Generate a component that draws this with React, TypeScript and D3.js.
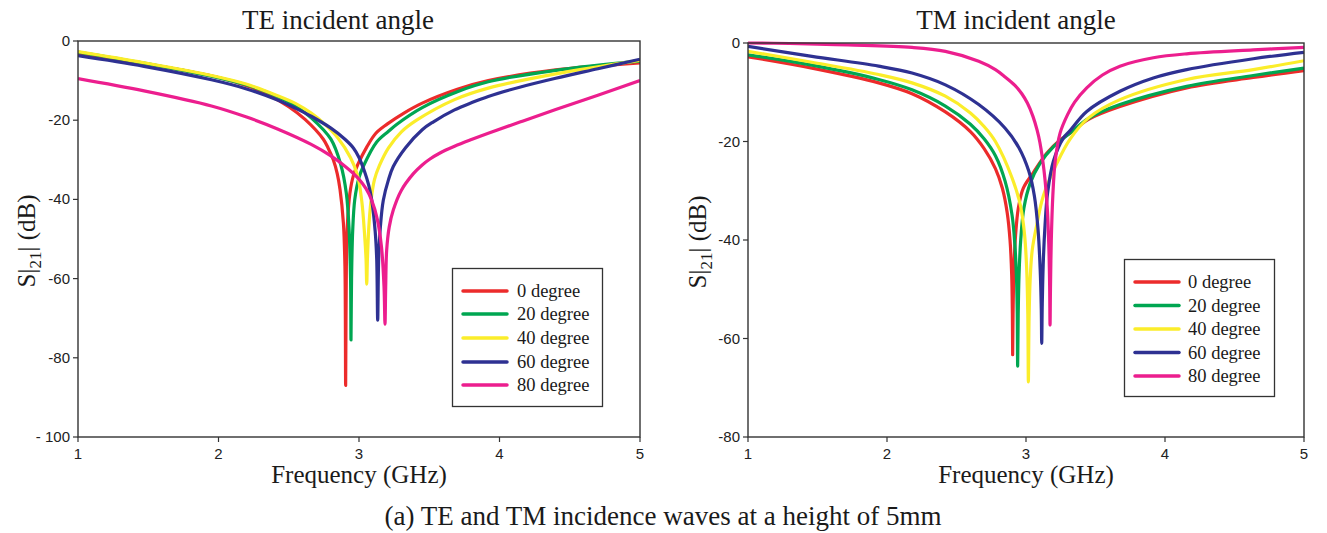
import React from "react";
import * as d3 from "d3";

type Pt = [number, number];

// ---------- data (frequency GHz, S21 dB) ----------
const seriesNames = ["0 degree", "20 degree", "40 degree", "60 degree", "80 degree"];
const seriesColors = ["#ec2b2b", "#00a651", "#fbed2a", "#2e3192", "#ec1e8e"];

const freqTicks = [1, 2, 3, 4, 5];
const teYTicks = [0, -20, -40, -60, -80, -100];
const teYTickLabels = ["0", "-20", "-40", "-60", "-80", "- 100"];
const tmYTicks = [0, -20, -40, -60, -80];
const tmYTickLabels = ["0", "-20", "-40", "-60", "-80"];

const te0: Pt[] = [
  [1.0, -3.3], [1.5, -5.9], [2.0, -9.2], [2.2, -11.3], [2.35, -13.5], [2.5, -16.6], [2.616, -19.8],
  [2.746, -24.8], [2.78, -27.0], [2.817, -30.0], [2.845, -33.5], [2.865, -37.5], [2.889, -46], [2.9, -57],
  [2.905, -87], [2.91, -57], [2.918, -46], [2.935, -38.5], [2.96, -34], [2.99, -31.3], [3.055, -26.8],
  [3.12, -23.3], [3.2, -21.0], [3.32, -18.2], [3.45, -15.7], [3.7, -12.2], [3.92, -10.0], [4.4, -7.3],
  [5.0, -5.5],
];
const te20: Pt[] = [
  [1.0, -2.8], [1.47, -5.6], [1.95, -8.9], [2.19, -11.0], [2.42, -14.0], [2.55, -16.5], [2.66, -19.4],
  [2.8, -24.8], [2.87, -31.2], [2.91, -38.5], [2.93, -48], [2.94, -60], [2.943, -75.5], [2.947, -60],
  [2.955, -48], [2.97, -40], [3.0, -34.5], [3.03, -31.7], [3.126, -25.5], [3.21, -22.8], [3.27, -21.0],
  [3.45, -16.8], [3.7, -12.8], [3.92, -10.3], [4.4, -7.4], [5.0, -5.1],
];
const te40: Pt[] = [
  [1.0, -2.7], [1.47, -5.5], [1.95, -8.7], [2.19, -10.8], [2.42, -13.8], [2.55, -15.8], [2.66, -18.2],
  [2.75, -20.8], [2.85, -24.5], [2.94, -29.5], [2.99, -34], [3.02, -40.5], [3.04, -49], [3.05, -55],
  [3.055, -61.4], [3.06, -55], [3.07, -47], [3.085, -40.5], [3.11, -35], [3.145, -31.5], [3.21, -27.0],
  [3.3, -23], [3.41, -20], [3.68, -14.8], [3.92, -11.9], [4.4, -8.3], [5.0, -4.9],
];
const te60: Pt[] = [
  [1.0, -3.7], [1.47, -6.4], [1.95, -9.8], [2.2, -12.1], [2.42, -14.9], [2.55, -17.0], [2.66, -19.0],
  [2.8, -22.0], [2.9, -24.8], [2.96, -27.0], [3.0, -29.4], [3.04, -33], [3.07, -36.5], [3.09, -40],
  [3.115, -48], [3.126, -55], [3.133, -70.5], [3.14, -55], [3.152, -47], [3.173, -40.2], [3.21, -35],
  [3.244, -31.7], [3.33, -27.0], [3.45, -22.4], [3.53, -20.4], [3.68, -17.4], [3.8, -15.6], [3.92, -14.0],
  [4.15, -11.6], [4.4, -9.4], [4.7, -7.0], [5.0, -4.6],
];
const te80: Pt[] = [
  [1.0, -9.5], [1.47, -12.6], [1.95, -16.4], [2.2, -19.2], [2.42, -22.2], [2.66, -26.1], [2.8, -29.0],
  [2.9, -31.6], [2.99, -34.5], [3.05, -37.3], [3.09, -40.2], [3.13, -45], [3.16, -52], [3.178, -62],
  [3.185, -71.5], [3.19, -62], [3.197, -52.8], [3.215, -47], [3.244, -42.7], [3.3, -37.8], [3.387, -33.5],
  [3.45, -31.3], [3.505, -29.8], [3.57, -28.4], [3.68, -26.6], [3.8, -24.9], [3.92, -23.3], [4.15, -20.4],
  [4.4, -17.3], [4.7, -13.7], [5.0, -10.0],
];

const tm0: Pt[] = [
  [1.0, -2.8], [1.46, -5.1], [1.94, -8.1], [2.18, -10.3], [2.42, -14.0], [2.6, -18], [2.7, -21.5],
  [2.78, -25.5], [2.83, -29.5], [2.865, -34.5], [2.885, -40], [2.897, -47], [2.902, -55], [2.904, -63.3],
  [2.907, -55], [2.913, -46], [2.925, -39], [2.945, -33.5], [2.98, -29.5], [3.053, -26.3], [3.149, -22.4],
  [3.245, -19.7], [3.317, -18.3], [3.45, -15.5], [3.676, -12.9], [4.156, -9.1], [4.635, -7.0], [5.0, -5.6],
];
const tm20: Pt[] = [
  [1.0, -2.4], [1.46, -4.5], [1.94, -7.4], [2.18, -9.5], [2.42, -12.8], [2.6, -16.5], [2.7, -19.5],
  [2.78, -22.9], [2.85, -28.1], [2.9, -35], [2.92, -41], [2.932, -48], [2.937, -55], [2.94, -65.6],
  [2.944, -55], [2.95, -47], [2.962, -40], [2.985, -33.5], [3.03, -28.5], [3.1, -24.5], [3.2, -21],
  [3.317, -18.3], [3.45, -15.3], [3.676, -12.5], [4.156, -8.8], [4.635, -6.6], [5.0, -5.1],
];
const tm40: Pt[] = [
  [1.0, -1.7], [1.46, -3.9], [1.94, -6.4], [2.18, -8.1], [2.42, -10.8], [2.6, -14.2], [2.7, -17],
  [2.78, -20.0], [2.9, -27.4], [2.96, -33], [2.99, -39], [3.005, -46], [3.013, -55], [3.017, -68.8],
  [3.022, -56], [3.03, -48], [3.045, -42], [3.077, -37], [3.125, -31], [3.221, -24.5], [3.317, -19.5],
  [3.45, -15.2], [3.676, -11.5], [4.156, -7.4], [4.635, -5.4], [5.0, -3.6],
];
const tm60: Pt[] = [
  [1.0, -0.7], [1.46, -2.7], [1.94, -4.7], [2.18, -6.1], [2.42, -8.5], [2.66, -12.5], [2.85, -17.3],
  [2.95, -21.3], [3.02, -26], [3.06, -31], [3.087, -38], [3.102, -46], [3.11, -54], [3.113, -61],
  [3.117, -53], [3.125, -44], [3.137, -37], [3.155, -30.5], [3.197, -24], [3.269, -19.3], [3.317, -17.8],
  [3.437, -13.9], [3.676, -9.8], [3.916, -7.1], [4.156, -5.4], [4.635, -3.2], [5.0, -1.9],
];
const tm80: Pt[] = [
  [1.0, 0], [1.3, -0.1], [1.72, -0.4], [2.18, -0.9], [2.42, -1.7], [2.66, -3.7], [2.78, -5.4],
  [2.85, -6.9], [2.92, -8.6], [2.97, -10.3], [3.01, -12.2], [3.05, -14.9], [3.08, -17.7], [3.1, -20.2],
  [3.13, -26], [3.152, -33], [3.164, -41], [3.17, -49], [3.173, -57.3], [3.176, -50], [3.182, -40],
  [3.193, -31], [3.21, -24], [3.245, -18.3], [3.3, -14.5], [3.35, -12], [3.437, -9.1], [3.55, -6.5],
  [3.676, -4.7], [3.916, -3.0], [4.156, -2.2], [4.635, -1.4], [5.0, -0.9],
];

const teSeries = [te0, te20, te40, te60, te80];
const tmSeries = [tm0, tm20, tm40, tm60, tm80];

const SERIF = "'Liberation Serif', 'Times New Roman', serif";
const SANS = "'Liberation Sans', Arial, sans-serif";
const AXIS = "#333";

interface PanelProps {
  title: string;
  titleX: number;
  x0: number; x1: number; y0: number; y1: number;
  yMin: number;
  yTicks: number[];
  yTickLabels: string[];
  series: Pt[][];
  ylabelX: number;
  legend: { left: number; top: number; right: number; bottom: number; lineX0: number; lineX1: number; textX: number; rows: number[] };
}

function Panel(p: PanelProps) {
  const x = d3.scaleLinear().domain([1, 5]).range([p.x0, p.x1]);
  const y = d3.scaleLinear().domain([p.yMin, 0]).range([p.y1, p.y0]);
  const line = d3
    .line<Pt>()
    .x((d) => x(d[0]))
    .y((d) => y(d[1]))
    .curve(d3.curveCatmullRom.alpha(0.5));
  const cx = (p.x0 + p.x1) / 2;
  const cy = (p.y0 + p.y1) / 2;
  return (
    <g>
      <text x={p.titleX} y={29} textAnchor="middle" fontFamily={SERIF} fontSize={27} fill="#1a1a1a">
        {p.title}
      </text>
      <defs>
        <clipPath id={"clip" + p.x0}>
          <rect x={p.x0} y={p.y0 - 2} width={p.x1 - p.x0} height={p.y1 - p.y0 + 2} />
        </clipPath>
      </defs>
      <g clipPath={`url(#clip${p.x0})`}>
        {p.series.map((s, i) => (
          <path key={i} d={line(s) || ""} fill="none" stroke={seriesColors[i]} strokeWidth={3.2} strokeLinejoin="round" />
        ))}
      </g>
      <rect x={p.x0} y={p.y0} width={p.x1 - p.x0} height={p.y1 - p.y0} fill="none" stroke={AXIS} strokeWidth={1.4} />
      {freqTicks.map((t) => (
        <g key={t}>
          <line x1={x(t)} x2={x(t)} y1={p.y1} y2={p.y1 + 5} stroke={AXIS} strokeWidth={1.2} />
          <text x={x(t)} y={p.y1 + 22} textAnchor="middle" fontFamily={SANS} fontSize={15} fill="#222">
            {t}
          </text>
        </g>
      ))}
      {p.yTicks.map((t, i) => (
        <g key={t}>
          <line x1={p.x0 - 5} x2={p.x0} y1={y(t)} y2={y(t)} stroke={AXIS} strokeWidth={1.2} />
          <text x={p.x0 - 8} y={y(t) + 5} textAnchor="end" fontFamily={SANS} fontSize={15} fill="#222">
            {p.yTickLabels[i]}
          </text>
        </g>
      ))}
      <text x={cx} y={p.y1 + 46} textAnchor="middle" fontFamily={SERIF} fontSize={25} fill="#1a1a1a">
        Frequency (GHz)
      </text>
      <text
        transform={`translate(${p.ylabelX},${cy + 2}) rotate(-90)`}
        textAnchor="middle"
        fontFamily={SERIF}
        fontSize={25}
        fill="#1a1a1a"
      >
        S|<tspan fontSize={17} dy={6}>21</tspan>
        <tspan dy={-6}>| (dB)</tspan>
      </text>
      <rect
        x={p.legend.left}
        y={p.legend.top}
        width={p.legend.right - p.legend.left}
        height={p.legend.bottom - p.legend.top}
        fill="#fff"
        stroke={AXIS}
        strokeWidth={1.3}
      />
      {seriesNames.map((n, i) => (
        <g key={n}>
          <line
            x1={p.legend.lineX0}
            x2={p.legend.lineX1}
            y1={p.legend.rows[i]}
            y2={p.legend.rows[i]}
            stroke={seriesColors[i]}
            strokeWidth={3.5}
            strokeLinecap="round"
          />
          <text x={p.legend.textX} y={p.legend.rows[i] + 6} fontFamily={SERIF} fontSize={18.5} fill="#1a1a1a">
            {n}
          </text>
        </g>
      ))}
    </g>
  );
}

export default function App() {
  return (
    <div style={{ position: "absolute", left: 0, top: 0, background: "#fff" }}>
      <svg width={1327} height={533} viewBox="0 0 1327 533">
        <rect width={1327} height={533} fill="#fff" />
        <Panel
          title="TE incident angle"
          titleX={338}
          x0={78} x1={640} y0={41} y1={437}
          yMin={-100}
          yTicks={teYTicks}
          yTickLabels={teYTickLabels}
          series={teSeries}
          ylabelX={35}
          legend={{ left: 452.5, top: 268.5, right: 602.5, bottom: 406.5, lineX0: 463, lineX1: 507, textX: 517, rows: [291, 314, 338, 362, 385] }}
        />
        <Panel
          title="TM incident angle"
          titleX={1016}
          x0={748} x1={1304} y0={43} y1={437}
          yMin={-80}
          yTicks={tmYTicks}
          yTickLabels={tmYTickLabels}
          series={tmSeries}
          ylabelX={706}
          legend={{ left: 1124.5, top: 259.5, right: 1274.5, bottom: 396.5, lineX0: 1135, lineX1: 1179, textX: 1188, rows: [282, 305.5, 329, 352.5, 376] }}
        />
        <text x={663} y={525} textAnchor="middle" fontFamily={SERIF} fontSize={27} fill="#1a1a1a">
          (a) TE and TM incidence waves at a height of 5mm
        </text>
      </svg>
    </div>
  );
}
